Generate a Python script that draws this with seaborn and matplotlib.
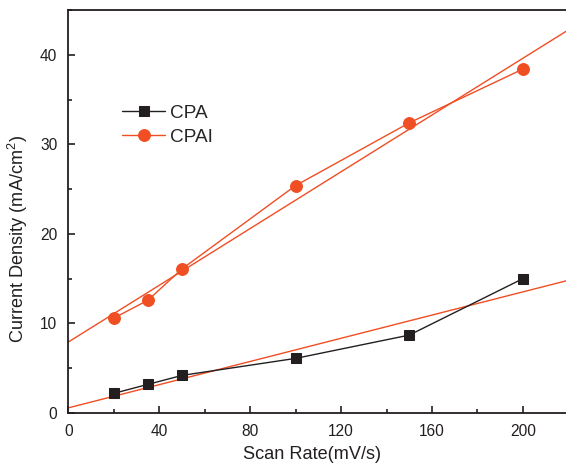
import numpy as np
import pandas as pd
import matplotlib
matplotlib.use("Agg")
import matplotlib.pyplot as plt
import seaborn as sns
from matplotlib.ticker import MultipleLocator

scan_rate = [20, 35, 50, 100, 150, 200]
cpa = [2.2, 3.2, 4.2, 6.1, 8.7, 15.0]
cpai = [10.6, 12.6, 16.1, 25.4, 32.4, 38.4]

sns.set_style("ticks")
plt.rcParams['font.family'] = ['Liberation Sans', 'DejaVu Sans']
plt.rcParams['mathtext.default'] = 'regular'

black = '#231F20'
orange = '#F04E23'

fig = plt.figure(figsize=(5.66, 4.67), dpi=100)
ax = fig.add_axes([0.121, 0.1156, 0.879, 0.863])
ax.set_xlim(0, 219)
ax.set_ylim(0, 45)

df = pd.DataFrame({'x': scan_rate, 'CPA': cpa, 'CPAI': cpai})

# linear fits
sns.regplot(data=df, x='x', y='CPA', ax=ax, scatter=False, ci=None, truncate=False,
            line_kws=dict(color=orange, lw=1.0))
sns.regplot(data=df, x='x', y='CPAI', ax=ax, scatter=False, ci=None, truncate=False,
            line_kws=dict(color=orange, lw=1.0))

sns.lineplot(data=df, x='x', y='CPA', ax=ax, color=black, marker='s', markersize=7,
             markeredgecolor=black, lw=1.0, label='CPA')
sns.lineplot(data=df, x='x', y='CPAI', ax=ax, color=orange, marker='o', markersize=8.5,
             markeredgecolor=orange, lw=1.0, label='CPAI')

ax.set_xlim(0, 219)
ax.set_ylim(0, 45)
ax.xaxis.set_major_locator(MultipleLocator(40))
ax.xaxis.set_minor_locator(MultipleLocator(20))
ax.yaxis.set_major_locator(MultipleLocator(10))
ax.yaxis.set_minor_locator(MultipleLocator(5))
ax.tick_params(which='both', direction='in', top=False, right=False, labelsize=11.2,
               colors='#231F20', pad=8)
ax.tick_params(which='major', length=5, width=1.2)
ax.tick_params(which='minor', length=3, width=1.2)
for s in ['left', 'bottom', 'top']:
    ax.spines[s].set_linewidth(1.3)
    ax.spines[s].set_color('#231F20')
ax.spines['right'].set_visible(False)
ax.spines['top'].set_visible(True)

ax.set_xlabel('Scan Rate(mV/s)', fontsize=13.1, color='#231F20')
ax.xaxis.set_label_coords(0.4894, -0.082)
ax.set_ylabel('Current Density (mA/cm$^{2}$)', fontsize=13.1, color='#231F20')
ax.yaxis.set_label_coords(-0.077, 0.432)

leg = ax.legend(loc='upper left', bbox_to_anchor=(0.107, 0.766), frameon=False, fontsize=13.7,
                handlelength=2.3, handletextpad=0.26, labelspacing=0.35,
                borderpad=0, borderaxespad=0)

fig.savefig('out.png', dpi=100)
